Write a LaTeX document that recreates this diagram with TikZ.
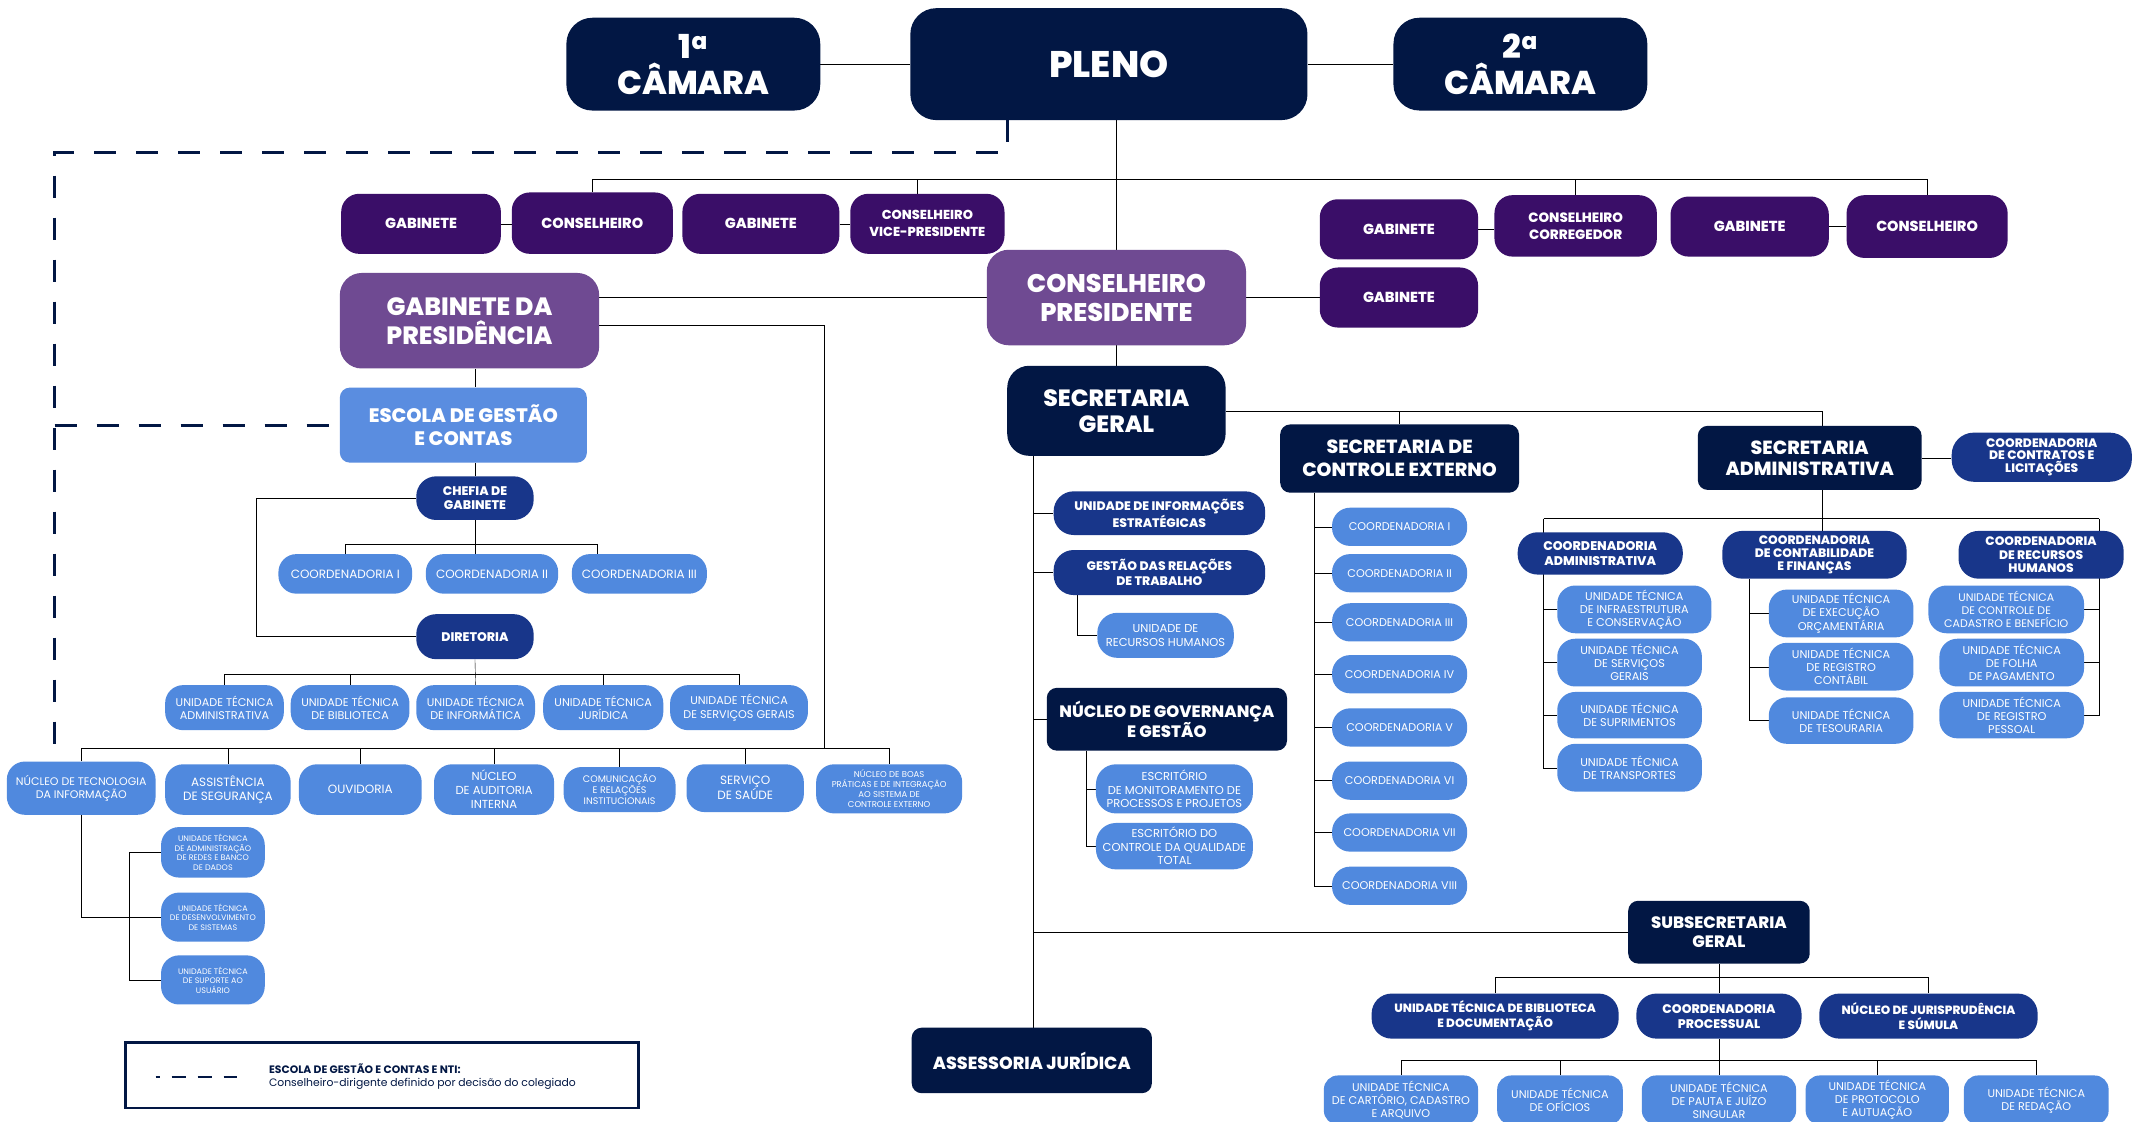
\documentclass[tikz,border=0pt]{standalone}
\usepackage{fontspec}
\setmainfont{Poppins}
\newfontfamily\lt{Poppins}
\newfontfamily\xb{Poppins ExtraBold}
\usetikzlibrary{calc,backgrounds}
\definecolor{navy}{HTML}{021744}
\definecolor{dpur}{HTML}{3A0E68}
\definecolor{mpur}{HTML}{6F4A92}
\definecolor{mblue}{HTML}{18368A}
\definecolor{lblue}{HTML}{5089DE}
\definecolor{eblue}{HTML}{5A8DE0}
\newcommand\fsz[2]{\fontsize{#1}{#2}\selectfont}
\newcommand\bx[8]{\node[#6, minimum width={(#4-#2)*1.3648pt}, minimum height={(#5-#3)*1.3648pt}, font={#7}] (#1) at ({(#2+#4)/2},{(#3+#5)/2}) {#8};}
\tikzset{
  box/.style={inner sep=0pt, align=center, text=white},
  nv/.style={box, fill=navy, rounded corners=#1},
  dp/.style={box, fill=dpur, rounded corners=#1},
  mp/.style={box, fill=mpur, rounded corners=#1},
  mb/.style={box, fill=mblue, rounded corners=#1},
  lb/.style={box, fill=lblue, rounded corners=#1},
  eb/.style={box, fill=eblue, rounded corners=#1},
  dsh/.style={navy, line width=3pt, dash pattern=on 22pt off 20pt},
}
\begin{document}
\begin{tikzpicture}[x=1.3648pt,y=-1.3648pt]
\useasboundingbox (0,0) rectangle (1568,821.4);
% top
\bx{cam1}{415}{13}{601}{81}{nv=26pt}{\xb\fsz{33}{36}}{1\textsuperscript{a}\\CÂMARA}
\bx{pleno}{667}{6}{958}{88}{nv=26pt}{\xb\fsz{37}{40}}{PLENO}
\bx{cam2}{1021}{13}{1207}{81}{nv=26pt}{\xb\fsz{33}{36}}{2\textsuperscript{a}\\CÂMARA}
% council
\bx{gab1}{250}{142}{367}{186}{dp=18pt}{\xb\fsz{14.5}{18}}{GABINETE}
\bx{cons1}{375}{141}{493}{186}{dp=18pt}{\xb\fsz{14.5}{18}}{CONSELHEIRO}
\bx{gab2}{500}{142}{615}{186}{dp=18pt}{\xb\fsz{14.5}{18}}{GABINETE}
\bx{vice}{623}{142}{736}{186}{dp=18pt}{\xb\fsz{13}{17}}{CONSELHEIRO\\VICE-PRESIDENTE}
\bx{gab3}{967}{146}{1083}{190}{dp=18pt}{\xb\fsz{14.5}{18}}{GABINETE}
\bx{corr}{1095}{143}{1214}{188}{dp=18pt}{\xb\fsz{13.5}{17}}{CONSELHEIRO\\CORREGEDOR}
\bx{gab4}{1224}{144}{1340}{188}{dp=18pt}{\xb\fsz{14.5}{18}}{GABINETE}
\bx{cons2}{1353}{143}{1471}{189}{dp=18pt}{\xb\fsz{14.5}{18}}{CONSELHEIRO}
\bx{gab5}{967}{196}{1083}{240}{dp=18pt}{\xb\fsz{14.5}{18}}{GABINETE}
\bx{gdp}{249}{200}{439}{270}{mp=22pt}{\xb\fsz{25}{29}}{GABINETE DA\\PRESIDÊNCIA}
\bx{cp}{723}{183}{913}{253}{mp=22pt}{\xb\fsz{25.5}{29}}{CONSELHEIRO\\PRESIDENTE}
% left branch
\bx{escola}{249}{284}{430}{339}{eb=10pt}{\xb\fsz{19.5}{23}}{ESCOLA DE GESTÃO\\E CONTAS}
\bx{chefia}{305}{349}{391}{381}{mb=20pt}{\xb\fsz{12.5}{14.5}}{CHEFIA DE\\GABINETE}
\bx{coordI}{204}{406}{302}{435}{lb=18pt}{\lt\fsz{12}{13}}{COORDENADORIA I}
\bx{coordII}{312}{406}{409}{435}{lb=18pt}{\lt\fsz{12}{13}}{COORDENADORIA II}
\bx{coordIII}{419}{406}{518}{435}{lb=18pt}{\lt\fsz{12}{13}}{COORDENADORIA III}
\bx{diretoria}{305}{450}{391}{483}{mb=20pt}{\xb\fsz{12.5}{15}}{DIRETORIA}
\bx{uta}{121}{502}{208}{535}{lb=18pt}{\lt\fsz{11.2}{13.5}}{UNIDADE TÉCNICA\\ADMINISTRATIVA}
\bx{utb}{213}{502}{300}{535}{lb=18pt}{\lt\fsz{11.2}{13.5}}{UNIDADE TÉCNICA\\DE BIBLIOTECA}
\bx{uti}{305}{502}{392}{535}{lb=18pt}{\lt\fsz{11.2}{13.5}}{UNIDADE TÉCNICA\\DE INFORMÁTICA}
\bx{utj}{398}{502}{486}{535}{lb=18pt}{\lt\fsz{11.2}{13.5}}{UNIDADE TÉCNICA\\JURÍDICA}
\bx{uts}{491}{502}{592}{535}{lb=18pt}{\lt\fsz{11.2}{13.5}}{UNIDADE TÉCNICA\\DE SERVIÇOS GERAIS}
\bx{nti}{5}{558}{114}{597}{lb=18pt}{\lt\fsz{11}{13.5}}{NÚCLEO DE TECNOLOGIA\\DA INFORMAÇÃO}
\bx{asseg}{121}{560}{213}{597}{lb=18pt}{\lt\fsz{12}{14}}{ASSISTÊNCIA\\DE SEGURANÇA}
\bx{ouv}{219}{560}{309}{597}{lb=18pt}{\lt\fsz{12}{14}}{OUVIDORIA}
\bx{naud}{318}{560}{406}{597}{lb=18pt}{\lt\fsz{11.6}{14}}{NÚCLEO\\DE AUDITORIA\\INTERNA}
\bx{com}{413}{562}{495}{595}{lb=18pt}{\lt\fsz{9.5}{11}}{COMUNICAÇÃO\\E RELAÇÕES\\INSTITUCIONAIS}
\bx{sau}{503}{560}{589}{595}{lb=18pt}{\lt\fsz{12}{14}}{SERVIÇO\\DE SAÚDE}
\bx{nbp}{598}{560}{705}{596}{lb=18pt}{\lt\fsz{8.5}{10}}{NÚCLEO DE BOAS\\PRÁTICAS E DE INTEGRAÇÃO\\AO SISTEMA DE\\CONTROLE EXTERNO}
\bx{nti1}{118}{606}{194}{643}{lb=18pt}{\lt\fsz{8}{9.5}}{UNIDADE TÉCNICA\\DE ADMINISTRAÇÃO\\DE REDES E BANCO\\DE DADOS}
\bx{nti2}{118}{654}{194}{690}{lb=18pt}{\lt\fsz{8}{9.5}}{UNIDADE TÉCNICA\\DE DESENVOLVIMENTO\\DE SISTEMAS}
\bx{nti3}{118}{700}{194}{736}{lb=18pt}{\lt\fsz{8}{9.5}}{UNIDADE TÉCNICA\\DE SUPORTE AO\\USUÁRIO}
% legend
\bx{leg}{92}{764}{468}{812}{box, fill=white, draw=navy, line width=2.5pt}{}{}
\node[anchor=west, align=left, inner sep=0pt, text=navy, font=\fsz{10.8}{13.5}] (legt) at (197,789) {{\bfseries ESCOLA DE GESTÃO E CONTAS E NTI:}\\Conselheiro-dirigente definido por decisão do colegiado};
\coordinate (ls) at (114,789);
\coordinate (le) at (174,789);
\draw[navy, line width=2.5pt, dash pattern=on 14pt off 12pt, dash phase=10pt] (ls) -- (le);
% secretaria geral
\bx{sg}{738}{268}{898}{334}{nv=22pt}{\xb\fsz{23.5}{26}}{SECRETARIA\\GERAL}
\bx{uie}{772}{360}{927}{392}{mb=20pt}{\xb\fsz{12.4}{15}}{UNIDADE DE INFORMAÇÕES\\ESTRATÉGICAS}
\bx{grt}{772}{403}{927}{436}{mb=20pt}{\xb\fsz{12.4}{15}}{GESTÃO DAS RELAÇÕES\\DE TRABALHO}
\bx{urh}{804}{449}{904}{482}{lb=20pt}{\lt\fsz{11.5}{13.5}}{UNIDADE DE\\RECURSOS HUMANOS}
\bx{ngg}{767}{504}{943}{550}{nv=10pt}{\xb\fsz{16.5}{19}}{NÚCLEO DE GOVERNANÇA\\E GESTÃO}
\bx{esc1}{803}{560}{918}{596}{lb=20pt}{\lt\fsz{11.5}{13.5}}{ESCRITÓRIO\\DE MONITORAMENTO DE\\PROCESSOS E PROJETOS}
\bx{esc2}{803}{603}{918}{637}{lb=20pt}{\lt\fsz{11.5}{13.5}}{ESCRITÓRIO DO\\CONTROLE DA QUALIDADE\\TOTAL}
\bx{sce}{938}{311}{1113}{361}{nv=10pt}{\xb\fsz{19}{23}}{SECRETARIA DE\\CONTROLE EXTERNO}
\bx{co1}{976}{372}{1075}{400}{lb=18pt}{\lt\fsz{11.2}{13}}{COORDENADORIA I}
\bx{co2}{976}{406}{1075}{434}{lb=18pt}{\lt\fsz{11.2}{13}}{COORDENADORIA II}
\bx{co3}{976}{442}{1075}{470}{lb=18pt}{\lt\fsz{11.2}{13}}{COORDENADORIA III}
\bx{co4}{976}{480}{1075}{508}{lb=18pt}{\lt\fsz{11.2}{13}}{COORDENADORIA IV}
\bx{co5}{976}{519}{1075}{547}{lb=18pt}{\lt\fsz{11.2}{13}}{COORDENADORIA V}
\bx{co6}{976}{558}{1075}{586}{lb=18pt}{\lt\fsz{11.2}{13}}{COORDENADORIA VI}
\bx{co7}{976}{596}{1075}{624}{lb=18pt}{\lt\fsz{11.2}{13}}{COORDENADORIA VII}
\bx{co8}{976}{635}{1075}{663}{lb=18pt}{\lt\fsz{11.2}{13}}{COORDENADORIA VIII}
\bx{sa}{1244}{312}{1408}{359}{nv=10pt}{\xb\fsz{19}{21}}{SECRETARIA\\ADMINISTRATIVA}
\bx{ccl}{1430}{317}{1562}{353}{mb=22pt}{\xb\fsz{12.3}{12.5}}{COORDENADORIA\\DE CONTRATOS E\\LICITAÇÕES}
\bx{ca}{1112}{390}{1233}{421}{mb=20pt}{\xb\fsz{12.6}{15}}{COORDENADORIA\\ADMINISTRATIVA}
\bx{ccf}{1262}{389}{1397}{424}{mb=20pt}{\xb\fsz{12.3}{13}}{COORDENADORIA\\DE CONTABILIDADE\\E FINANÇAS}
\bx{crh}{1435}{389}{1556}{424}{mb=20pt}{\xb\fsz{12.3}{13.5}}{COORDENADORIA\\DE RECURSOS\\HUMANOS}
\bx{ca1}{1141}{429}{1254}{464}{lb=18pt}{\lt\fsz{11.3}{13}}{UNIDADE TÉCNICA\\DE INFRAESTRUTURA\\E CONSERVAÇÃO}
\bx{ca2}{1141}{468}{1247}{503}{lb=18pt}{\lt\fsz{11.3}{13}}{UNIDADE TÉCNICA\\DE SERVIÇOS\\GERAIS}
\bx{ca3}{1141}{507}{1247}{541}{lb=18pt}{\lt\fsz{11.3}{13}}{UNIDADE TÉCNICA\\DE SUPRIMENTOS}
\bx{ca4}{1141}{545}{1247}{580}{lb=18pt}{\lt\fsz{11.3}{13}}{UNIDADE TÉCNICA\\DE TRANSPORTES}
\bx{ccf1}{1296}{432}{1402}{467}{lb=18pt}{\lt\fsz{11.3}{13}}{UNIDADE TÉCNICA\\DE EXECUÇÃO\\ORÇAMENTÁRIA}
\bx{ccf2}{1296}{471}{1402}{506}{lb=18pt}{\lt\fsz{11.3}{13}}{UNIDADE TÉCNICA\\DE REGISTRO\\CONTÁBIL}
\bx{ccf3}{1296}{511}{1402}{545}{lb=18pt}{\lt\fsz{11.3}{13}}{UNIDADE TÉCNICA\\DE TESOURARIA}
\bx{crh1}{1413}{429}{1527}{464}{lb=18pt}{\lt\fsz{11}{13}}{UNIDADE TÉCNICA\\DE CONTROLE DE\\CADASTRO E BENEFÍCIO}
\bx{crh2}{1421}{468}{1527}{503}{lb=18pt}{\lt\fsz{11.3}{13}}{UNIDADE TÉCNICA\\DE FOLHA\\DE PAGAMENTO}
\bx{crh3}{1421}{507}{1527}{541}{lb=18pt}{\lt\fsz{11.3}{13}}{UNIDADE TÉCNICA\\DE REGISTRO\\PESSOAL}
\bx{subsec}{1193}{660}{1326}{706}{nv=10pt}{\xb\fsz{16.5}{19}}{SUBSECRETARIA\\GERAL}
\bx{utbd}{1005}{728}{1186}{761}{mb=20pt}{\xb\fsz{12}{15}}{UNIDADE TÉCNICA DE BIBLIOTECA\\E DOCUMENTAÇÃO}
\bx{cproc}{1199}{728}{1320}{761}{mb=20pt}{\xb\fsz{12.5}{15}}{COORDENADORIA\\PROCESSUAL}
\bx{njs}{1333}{728}{1493}{761}{mb=20pt}{\xb\fsz{12}{15}}{NÚCLEO DE JURISPRUDÊNCIA\\E SÚMULA}
\bx{b1}{970}{788}{1083}{824}{lb=14pt}{\lt\fsz{11.2}{13}}{UNIDADE TÉCNICA\\DE CARTÓRIO, CADASTRO\\E ARQUIVO}
\bx{b2}{1097}{788}{1189}{824}{lb=14pt}{\lt\fsz{11.2}{13}}{UNIDADE TÉCNICA\\DE OFÍCIOS}
\bx{b3}{1203}{788}{1316}{824}{lb=14pt}{\lt\fsz{11.2}{13}}{UNIDADE TÉCNICA\\DE PAUTA E JUÍZO\\SINGULAR}
\bx{b4}{1323}{788}{1428}{824}{lb=14pt}{\lt\fsz{11.2}{13}}{UNIDADE TÉCNICA\\DE PROTOCOLO\\E AUTUAÇÃO}
\bx{b5}{1439}{788}{1545}{824}{lb=14pt}{\lt\fsz{11.2}{13}}{UNIDADE TÉCNICA\\DE REDAÇÃO}
\bx{asj}{668}{753}{844}{801}{nv=10pt}{\xb\fsz{17.5}{20}}{ASSESSORIA JURÍDICA}
% connectors
\begin{scope}[on background layer, navy, line width=2.6pt]
\fill[white] (0,0) rectangle (1568,821.4);
\draw (cam1.east) -- (cam1.east -| pleno.west);
\draw (pleno.east) -- (pleno.east -| cam2.west);
\draw (cp.north |- pleno.south) -- (cp.north);
\draw (cp.south) -- (sg.north);
\coordinate (cl) at (0,131);
\coordinate (vd) at ($(vice.north)+(-7.3,0)$);
\draw (cons1.north) -- (cons1.north |- cl) -- (cons2.north |- cl) -- (cons2.north);
\draw (vd) -- (vd |- cl);
\draw (corr.north) -- (corr.north |- cl);
\draw (gab1.east) -- (gab1.east -| cons1.west);
\draw (gab2.east) -- (gab2.east -| vice.west);
\draw (gab3.east) -- (gab3.east -| corr.west);
\draw (gab4.east) -- (gab4.east -| cons2.west);
\draw (cp.west) -- (cp.west -| gdp.east);
\draw (cp.east) -- (cp.east -| gab5.west);
\coordinate (blr) at (604,548);
\draw ($(gdp.east)+(0,3)$) -| (blr);
\draw (nti.north) -- (nti.north |- blr) -- (nbp.north |- blr) -- (nbp.north);
\foreach \n in {asseg,ouv,naud,com,sau} \draw (\n.north) -- (\n.north |- blr);
\draw (chefia.north |- gdp.south) -- (chefia.north |- escola.north);
\draw (chefia.north |- escola.south) -- (chefia.north);
\coordinate (cr) at (0,399);
\coordinate (c3) at ($(coordIII.north west)+(19,0)$);
\draw (coordI.north) -- (coordI.north |- cr) -- (c3 |- cr) -- (c3);
\draw (chefia.south) -- (chefia.south |- coordII.north);
\coordinate (brk) at (188,0);
\draw (chefia.west) -- (brk |- chefia.west) -- (brk |- diretoria.west) -- (diretoria.west);
\coordinate (ur) at (0,494);
\draw (uta.north) -- (uta.north |- ur) -- (uts.north |- ur) -- (uts.north);
\foreach \n in {utb,utj} \draw (\n.north) -- (\n.north |- ur);
\draw (diretoria.south) -- (uti.north);
\draw (nti.south) -- (nti.south |- nti2.west) -- (nti2.west);
\coordinate (nb) at (95,0);
\draw (nti1.west) -- (nb |- nti1.west) -- (nb |- nti3.west) -- (nti3.west);
\coordinate (sgx) at (757,0);
\draw (sgx |- sg.south) -- (sgx |- asj.north);
\foreach \n in {uie,grt,ngg,subsec} \draw (sgx |- \n.west) -- (\n.west);
\coordinate (gx) at (789,0);
\draw (gx |- grt.south) -- (gx |- urh.west) -- (urh.west);
\coordinate (nx) at (796,0);
\draw (nx |- ngg.south) -- (nx |- esc2.west) -- (esc2.west);
\draw (nx |- esc1.west) -- (esc1.west);
\coordinate (sax) at (1335,0);
\draw (sg.east) -- (sax |- sg.east) -- (sax |- sa.north);
\draw (sce.north) -- (sce.north |- sg.east);
\coordinate (scx) at (963,0);
\draw (scx |- sce.south) -- (scx |- co8.west) -- (co8.west);
\foreach \i in {1,...,7} \draw (scx |- co\i.west) -- (co\i.west);
\draw (sa.east) -- (sa.east -| ccl.west);
\coordinate (ar) at (0,380);
\coordinate (cax) at (1131,0);
\coordinate (ccx) at (1282,0);
\coordinate (crx) at (1538,0);
\draw (sax |- sa.south) -- (sax |- ccf.north);
\draw (cax |- ar) -- (crx |- ar);
\draw (cax |- ar) -- (cax |- ca4.west) -- (ca4.west);
\foreach \i in {1,2,3} \draw (cax |- ca\i.west) -- (ca\i.west);
\draw (ccx |- ccf.south) -- (ccx |- ccf3.west) -- (ccf3.west);
\foreach \i in {1,2} \draw (ccx |- ccf\i.west) -- (ccf\i.west);
\draw (crx |- ar) -- (crx |- crh3.east) -- (crh3.east);
\foreach \i in {1,2} \draw (crx |- crh\i.east) -- (crh\i.east);
\draw (subsec.south) -- (cproc.north);
\coordinate (sr) at (0,716);
\draw (utbd.north) -- (utbd.north |- sr) -- (njs.north |- sr) -- (njs.north);
\draw (cproc.south) -- (b3.north);
\coordinate (pr) at (0,777);
\draw (b1.north) -- (b1.north |- pr) -- (b5.north |- pr) -- (b5.north);
\foreach \i in {2,4} \draw (b\i.north) -- (b\i.north |- pr);
\coordinate (d1) at (738,112);
\coordinate (d2) at (40,112);
\draw[dsh] (d1 |- pleno.south) -- (d1) -- (d2) -- (d2 |- nti.north);
\draw[dsh] (d2 |- escola.west) -- (escola.west);
\end{scope}
\end{tikzpicture}
\end{document}
